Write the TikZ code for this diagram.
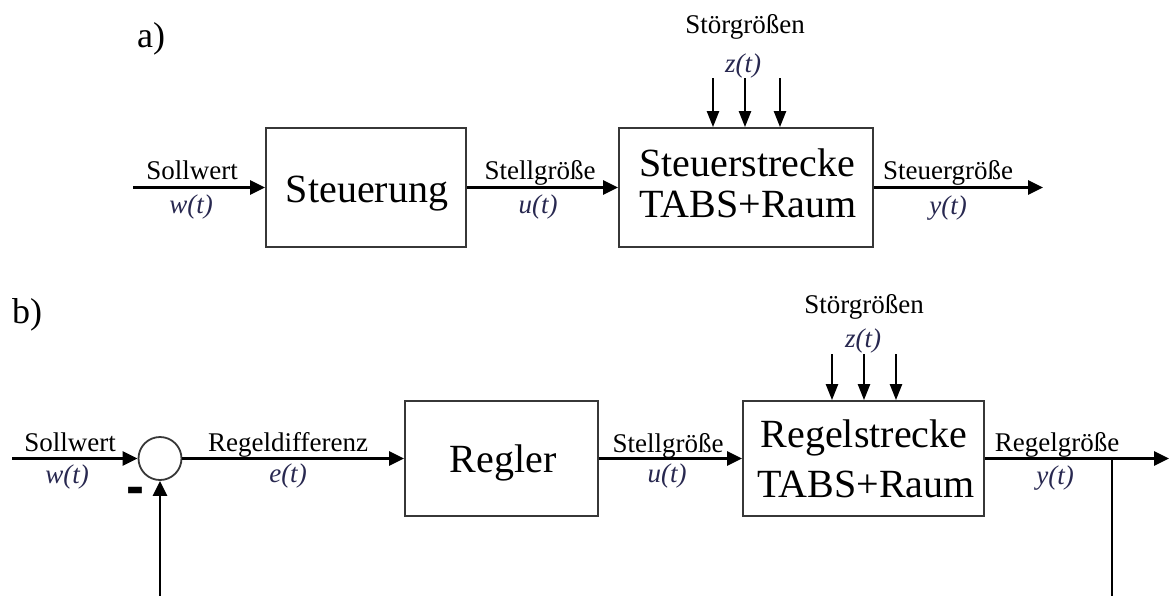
\documentclass[tikz,border=0pt]{standalone}
\usepackage{fontspec}
\setmainfont{Liberation Serif}
\newfontfamily\minusfont{Liberation Sans}
\usetikzlibrary{arrows.meta}
\definecolor{sigblue}{RGB}{40,40,80}
\definecolor{framegray}{RGB}{55,55,55}
\begin{document}
\begin{tikzpicture}[x=1pt,y=-1pt,
  block/.style={draw=framegray, line width=1.8pt, inner sep=0pt},
  blocktext/.style={anchor=base, inner sep=0pt, font=\fontsize{40}{44}\selectfont},
  lbl/.style={anchor=base, inner sep=0pt, font=\fontsize{27}{30}\selectfont},
  sigl/.style={anchor=base, inner sep=0pt, text=sigblue, font=\fontsize{27}{30}\selectfont\itshape},
  part/.style={anchor=base west, inner sep=0pt, font=\fontsize{36}{40}\selectfont},
  sig/.style={line width=2.8pt, -{Triangle[length=15pt,width=14pt]}},
  wire/.style={line width=2.8pt},
  dist/.style={line width=2.2pt, -{Triangle[length=16pt,width=12pt]}}]
\useasboundingbox (0,0) rectangle (1170,595);

% ---------- a) open-loop control ----------
\node[part] (pa) at (137,47) {a)};
\node[block, minimum width=200pt, minimum height=119pt] (steu) at (366,187.5) {};
\node[block, minimum width=254pt, minimum height=119pt] (sstr) at (746,187.5) {};
\node[blocktext] (steut) at (367,202) {Steuerung};
\node[blocktext] (sstrt1) at (747,176) {Steuerstrecke};
\node[blocktext] (sstrt2) at (748,217) {TABS+Raum};

\coordinate (ain) at (133,187.5);
\coordinate (aout) at (1043,187.5);
\draw[sig] (ain) -- (steu.west);
\draw[sig] (steu.east) -- (sstr.west);
\draw[sig] (sstr.east) -- (aout);

\node[lbl] (asoll) at (192,179) {Sollwert};
\node[sigl] (aw) at (191,213) {w(t)};
\node[lbl] (astell) at (540,179) {Stellgröße};
\node[sigl] (au) at (538,213) {u(t)};
\node[lbl] (asteuer) at (948,179) {Steuergröße};
\node[sigl] (ay) at (948,214) {y(t)};
\node[lbl] (astoer) at (745,33) {Störgrößen};
\node[sigl] (az) at (743,72) {z(t)};

\foreach \x [count=\i] in {713,745,780} {
  \coordinate (ad\i) at (\x,78);
  \draw[dist] (ad\i) -- (ad\i |- sstr.north);
}

% ---------- b) closed-loop control ----------
\node[part] (pb) at (12,323) {b)};
\node[circle, draw=framegray, line width=1.8pt, minimum size=43pt, inner sep=0pt] (sum) at (160,458.5) {};
\node[block, minimum width=193pt, minimum height=115pt] (regler) at (501.5,458.5) {};
\node[block, minimum width=241pt, minimum height=115pt] (rstr) at (863.5,458.5) {};
\node[blocktext] (reglert) at (503,472) {Regler};
\node[blocktext] (rstrt1) at (864,447) {Regelstrecke};
\node[blocktext] (rstrt2) at (866,497) {TABS+Raum};

\coordinate (bin) at (12,458.5);
\coordinate (bout) at (1169,458.5);
\coordinate (branch) at (1112,458.5);
\coordinate (bdown) at (1112,596);
\coordinate (fbin) at (160,596);
\draw[sig] (bin) -- (sum.west);
\draw[sig] (sum.east) -- (regler.west);
\draw[sig] (regler.east) -- (rstr.west);
\draw[sig] (rstr.east) -- (bout);
\draw[wire] (branch) -- (bdown);
\draw[sig] (fbin) -- (sum.south);

% minus sign of the feedback input
\node[anchor=base, inner sep=0pt, font=\fontsize{54}{54}\minusfont\bfseries] (minus) at (135.5,504) {-};

\node[lbl] (bsoll) at (70,451) {Sollwert};
\node[sigl] (bw) at (67,483) {w(t)};
\node[lbl] (bdiff) at (288,451) {Regeldifferenz};
\node[sigl] (be) at (288,482) {e(t)};
\node[lbl] (bstell) at (668,452) {Stellgröße};
\node[sigl] (bu) at (667,482) {u(t)};
\node[lbl] (bregel) at (1057,451) {Regelgröße};
\node[sigl] (by) at (1055,484) {y(t)};
\node[lbl] (bstoer) at (864,313) {Störgrößen};
\node[sigl] (bz) at (863,347) {z(t)};

\foreach \x [count=\i] in {832,864,896} {
  \coordinate (bd\i) at (\x,354);
  \draw[dist] (bd\i) -- (bd\i |- rstr.north);
}
\end{tikzpicture}
\end{document}
